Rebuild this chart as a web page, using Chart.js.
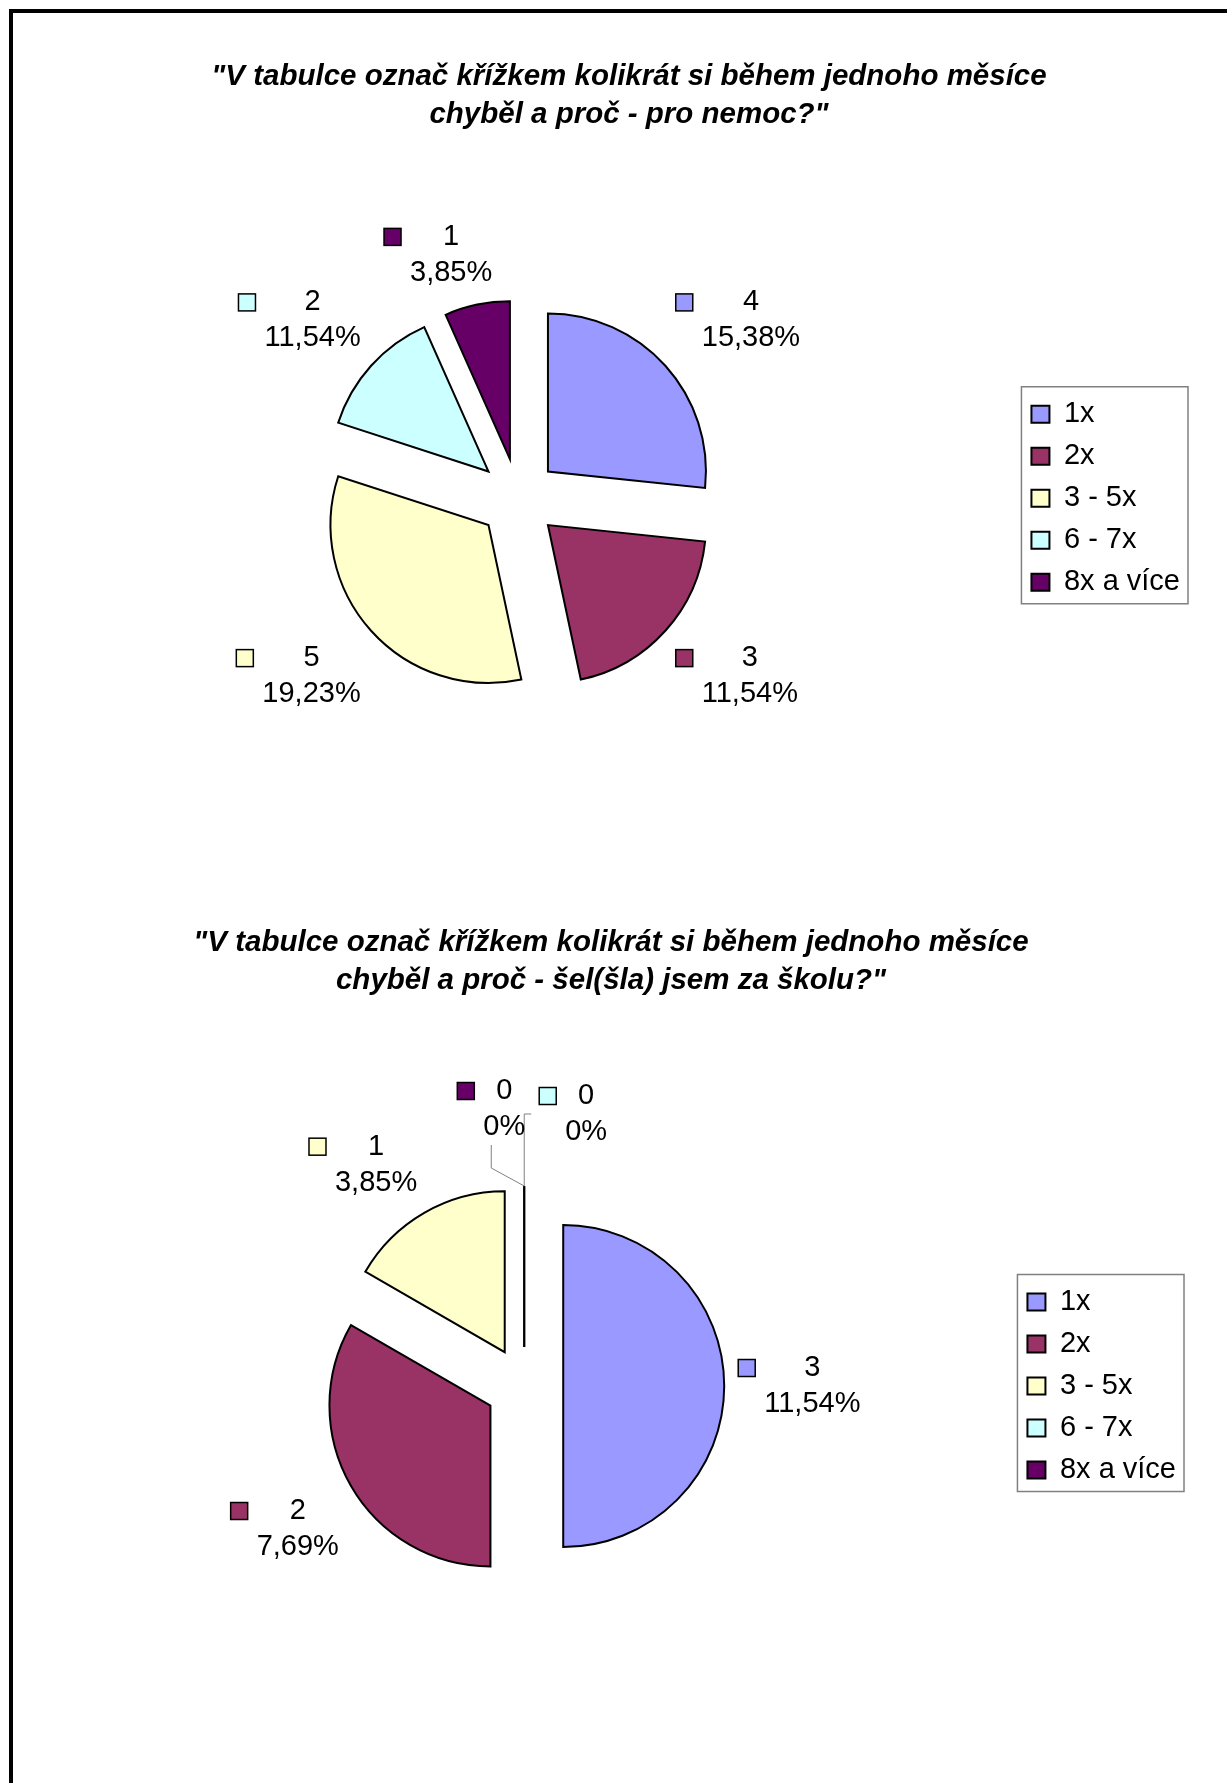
<!DOCTYPE html>
<html lang="cs">
<head>
<meta charset="utf-8">
<title>Absence – koláčové grafy</title>
<script src="https://cdn.jsdelivr.net/npm/chart.js@4.4.1/dist/chart.umd.min.js"></script>
<style>
  html, body { margin: 0; padding: 0; background: #fff; }
  body { width: 1227px; height: 1783px; position: relative; overflow: hidden; }
  .frame {
    position: absolute; left: 9px; top: 9px; width: 1260px; height: 1800px;
    border-top: 4px solid #000; border-left: 4px solid #000;
  }
  canvas { position: absolute; left: 0; }
  #nemocChart { top: 0; }
  #skolaChart { top: 853px; }
</style>
</head>
<body>
<div class="frame"></div>
<canvas id="nemocChart" width="1227" height="853"></canvas>
<canvas id="skolaChart" width="1227" height="930"></canvas>
<script>
const categories = ["1x", "2x", "3 - 5x", "6 - 7x", "8x a více"];
const colors = ["#9999ff", "#993366", "#ffffcc", "#ccffff", "#660066"];

// "pro nemoc"
const nemocCounts = [4, 3, 5, 2, 1];
const nemocPercents = [15.38, 11.54, 19.23, 11.54, 3.85];

// "šel(šla) jsem za školu"
const skolaCounts = [3, 2, 1, 0, 0];
const skolaPercents = [11.54, 7.69, 3.85, 0, 0];

const nemocTitle = [
  '"V tabulce označ křížkem kolikrát si během jednoho měsíce',
  'chyběl a proč - pro nemoc?"',
];
const skolaTitle = [
  '"V tabulce označ křížkem kolikrát si během jednoho měsíce',
  'chyběl a proč - šel(šla) jsem za školu?"',
];

const FONT = "'Liberation Sans', Arial, sans-serif";
const KEY = 17;
const KEY_GAP = 9;
const LABEL_GAP = 14;

Chart.defaults.font.family = FONT;
Chart.defaults.color = "#000";

const clamp = (v) => Math.max(-1, Math.min(1, v));
const fmtPct = (p) => (p ? p.toFixed(2).replace(".", ",") + "%" : "0%");

// pull every slice out from the centre (exploded pie)
const explode = {
  id: "explode",
  afterDatasetUpdate(chart, args, opts) {
    const dist = opts.distance || 0;
    args.meta.data.forEach((arc) => {
      const mid = (arc.startAngle + arc.endAngle) / 2;
      arc.x += Math.cos(mid) * dist;
      arc.y += Math.sin(mid) * dist;
    });
  },
};

// the title sits a bit off the plot centre in the original
const titleAt = {
  id: "titleAt",
  afterLayout(chart, args, opts) {
    const t = chart.titleBlock;
    if (!t || opts.x == null) return;
    const d = opts.x - (t.left + t.right) / 2;
    t.left += d;
    t.right += d;
  },
};

// grey frame round the legend
const legendFrame = {
  id: "legendFrame",
  afterDraw(chart) {
    const boxes = chart.legend && chart.legend.legendHitBoxes;
    if (!boxes || !boxes.length) return;
    const first = boxes[0];
    const last = boxes[boxes.length - 1];
    const widest = Math.max(...boxes.map((b) => b.width));
    const ctx = chart.ctx;
    ctx.save();
    ctx.strokeStyle = "#808080";
    ctx.lineWidth = 1.5;
    ctx.strokeRect(
      first.left - 10,
      first.top - 13,
      widest + 18,
      last.top + last.height - first.top + 20,
    );
    ctx.restore();
  },
};

// value + percentage labels with a legend key, outside each slice
const sliceLabels = {
  id: "sliceLabels",
  afterDatasetsDraw(chart, args, opts) {
    const ctx = chart.ctx;
    const meta = chart.getDatasetMeta(0);
    const ds = chart.data.datasets[0];
    const zeros = ds.data.map((v, i) => i).filter((i) => ds.data[i] === 0);

    ctx.save();
    ctx.font = `29px ${FONT}`;
    ctx.textAlign = "center";
    ctx.textBaseline = "middle";

    meta.data.forEach((arc, i) => {
      const mid = (arc.startAngle + arc.endAngle) / 2;
      const cos = Math.cos(mid);
      const sin = Math.sin(mid);
      const r = arc.outerRadius;
      const value = String(ds.data[i]);
      const pct = fmtPct(opts.percents[i]);
      const colW = Math.max(ctx.measureText(value).width, ctx.measureText(pct).width);
      const w = KEY + KEY_GAP + colW;
      const h = 72;

      let cx = arc.x + cos * (r + LABEL_GAP) + (clamp(3.2 * cos) * w) / 2;
      let cy = arc.y + sin * (r + LABEL_GAP) + (clamp(3.2 * sin) * h) / 2;

      const k = zeros.indexOf(i);
      if (k >= 0) {
        // empty slice: a single spoke, labels pushed apart with leader lines
        const tipX = arc.x + cos * r;
        const tipY = arc.y + sin * r;
        ctx.strokeStyle = "#000";
        ctx.lineWidth = 2;
        ctx.beginPath();
        ctx.moveTo(arc.x, arc.y);
        ctx.lineTo(tipX, tipY);
        ctx.stroke();

        cx += ((zeros.length - 1) / 2 - k) * (w + 14) + 8;
        cy -= 22 + 5 * k;

        ctx.strokeStyle = "#808080";
        ctx.lineWidth = 1;
        ctx.beginPath();
        ctx.moveTo(tipX, tipY);
        if (cx < tipX) {
          ctx.lineTo(cx, tipY - 18);
          ctx.lineTo(cx, cy + h / 2);
        } else {
          ctx.lineTo(tipX, cy);
          ctx.lineTo(cx - w / 2 - 8, cy);
        }
        ctx.stroke();
      }

      const left = cx - w / 2;
      const top = cy - h / 2;
      const line1 = top + 18;
      const line2 = top + 54;

      ctx.fillStyle = ds.backgroundColor[i];
      ctx.fillRect(left, line1 - KEY / 2, KEY, KEY);
      ctx.strokeStyle = "#000";
      ctx.lineWidth = 1.5;
      ctx.strokeRect(left, line1 - KEY / 2, KEY, KEY);

      const textX = left + KEY + KEY_GAP + colW / 2;
      ctx.fillStyle = "#000";
      ctx.fillText(value, textX, line1);
      ctx.fillText(pct, textX, line2);
    });
    ctx.restore();
  },
};

function makePie(canvasId, counts, percents, title, layout) {
  return new Chart(document.getElementById(canvasId), {
    type: "pie",
    data: {
      labels: categories,
      datasets: [
        {
          data: counts,
          backgroundColor: colors,
          borderColor: "#000",
          borderWidth: 2,
          borderJoinStyle: "miter",
        },
      ],
    },
    options: {
      responsive: false,
      animation: false,
      radius: layout.radius,
      layout: { padding: layout.padding },
      plugins: {
        title: {
          display: true,
          text: title,
          color: "#000",
          font: { size: 29.5, weight: "bold", style: "italic", lineHeight: 1.28 },
          padding: { top: layout.titleTop, bottom: 10 },
        },
        legend: {
          position: "right",
          fullSize: false,
          labels: {
            color: "#000",
            font: { size: 29 },
            boxWidth: 18,
            boxHeight: 17,
            padding: 13,
          },
        },
        tooltip: { enabled: false },
        explode: { distance: layout.explode },
        titleAt: { x: layout.titleX },
        sliceLabels: { percents },
      },
    },
    plugins: [explode, titleAt, legendFrame, sliceLabels],
  });
}

makePie("nemocChart", nemocCounts, nemocPercents, nemocTitle, {
  radius: 158,
  explode: 40,
  titleTop: 58,
  titleX: 629,
  padding: { left: 18, right: 37, top: 0, bottom: 0 },
});

makePie("skolaChart", skolaCounts, skolaPercents, skolaTitle, {
  radius: 161,
  explode: 39,
  titleTop: 71,
  titleX: 611,
  padding: { left: 34, right: 41, top: 0, bottom: 20.5 },
});
</script>
</body>
</html>
